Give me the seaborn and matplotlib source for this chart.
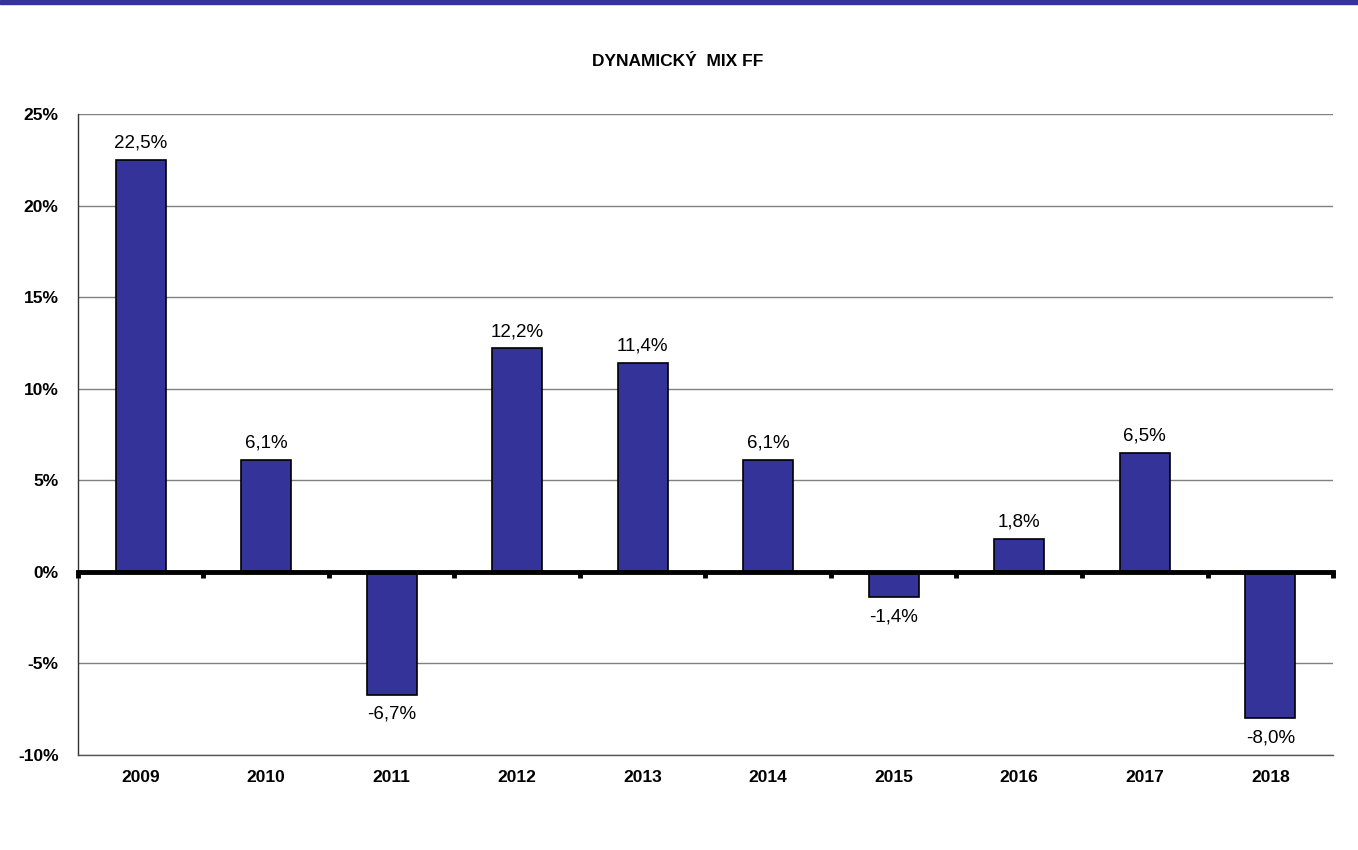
import matplotlib
matplotlib.use('Agg')
import matplotlib.pyplot as plt
import matplotlib.patches as mpatches
import seaborn as sns
import pandas as pd

# ── DATA ──────────────────────────────────────────────────────────────────────
years = ['2009', '2010', '2011', '2012', '2013', '2014', '2015', '2016', '2017', '2018']
returns = [22.5, 6.1, -6.7, 12.2, 11.4, 6.1, -1.4, 1.8, 6.5, -8.0]
y_ticks = [-10, -5, 0, 5, 10, 15, 20, 25]
title = 'DYNAMICKÝ  MIX FF'

df = pd.DataFrame({'rok': years, 'vynos': returns})

sns.set_style('white')
plt.rcParams['font.family'] = ['Liberation Sans', 'DejaVu Sans']
plt.rcParams['text.color'] = 'black'
plt.rcParams['xtick.color'] = 'black'
plt.rcParams['ytick.color'] = 'black'

fig = plt.figure(figsize=(13.58, 8.5), dpi=100)
ax = fig.add_axes([0.0574, 0.1118, 0.9242, 0.7541])

# modry pruh nahore
fig.patches.append(mpatches.Rectangle((0, 0.9955), 1, 0.0045, transform=fig.transFigure,
                                      color='#333399', zorder=0))

sns.barplot(data=df, x='rok', y='vynos', color='#333399', saturation=1,
            edgecolor='black', linewidth=1.2, width=0.4, ax=ax, zorder=3)

ax.set_xlim(-0.5, len(years) - 0.5)
ax.set_ylim(y_ticks[0], y_ticks[-1])
ax.set_yticks(y_ticks)
ax.set_yticklabels([f'{t}%' for t in y_ticks], fontsize=12.5, fontweight='bold')
ax.set_xticks(range(len(years)))
ax.set_xticklabels(years, fontsize=12.5, fontweight='bold')
ax.tick_params(axis='x', length=0, pad=11)
ax.tick_params(axis='y', length=6, width=1, color='#333333', direction='out', pad=8)
ax.set_xlabel('')
ax.set_ylabel('')

ax.yaxis.grid(True, color='#808080', linewidth=1)
ax.set_axisbelow(True)
for s in ['top', 'right']:
    ax.spines[s].set_visible(False)
ax.spines['left'].set_color('#333333')
ax.spines['left'].set_linewidth(1)
ax.spines['bottom'].set_color('#555555')
ax.spines['bottom'].set_linewidth(1)

# nulova osa s ryskami mezi kategoriemi
zero_pos = (0 - y_ticks[0]) / (y_ticks[-1] - y_ticks[0])
sec = ax.secondary_xaxis(zero_pos)
sec.set_xticks([i - 0.5 for i in range(len(years) + 1)])
sec.set_xticklabels([])
sec.spines['bottom'].set_linewidth(3.5)
sec.spines['bottom'].set_color('black')
sec.spines['top'].set_visible(False)
sec.tick_params(axis='x', direction='out', length=4, width=3.5, color='black')
sec.set_zorder(5)

# popisky hodnot
for i, v in enumerate(returns):
    txt = f'{v:.1f}%'.replace('.', ',')
    if v >= 0:
        ax.text(i, v + 0.45, txt, ha='center', va='bottom', fontsize=13.5)
    else:
        ax.text(i, v - 0.6, txt, ha='center', va='top', fontsize=13.5)

fig.text(678 / 1358, 1 - 62 / 850, title, ha='center', va='center',
         fontsize=12.5, fontweight='bold')

plt.savefig('out.png', dpi=100)
plt.close()
